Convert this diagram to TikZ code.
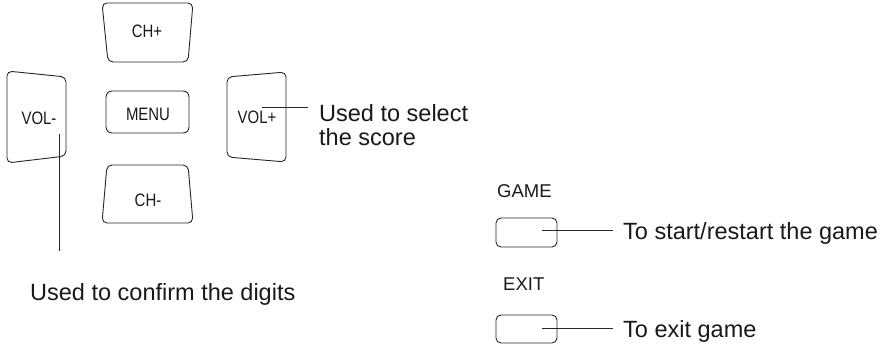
\documentclass[tikz,border=0pt]{standalone}
\usepackage{fontspec}
\setmainfont{Liberation Sans}
\newfontfamily\lblfont[FakeStretch=0.83]{Liberation Sans}
\begin{document}
\begin{tikzpicture}[x=1pt,y=-1pt,
  btn/.style={draw=black!85,line width=0.9pt,rounded corners=5pt},
  lead/.style={draw=black!85,line width=0.8pt},
  btnlabel/.style={inner sep=0pt,anchor=base,font=\lblfont\fontsize{18}{21}\selectfont,text=black!90},
  keyname/.style={inner sep=0pt,anchor=base west,font=\fontsize{18.5}{22}\selectfont,text=black!90},
  desc/.style={inner sep=0pt,anchor=base west,font=\fontsize{23.5}{27}\selectfont,text=black!90}]
\useasboundingbox (0,0) rectangle (893,347);
% buttons
\draw[btn] (102,3) -- (193,3) -- (188,62) -- (108,62) -- cycle;
\draw[btn] (7,71) -- (66,77) -- (66,156) -- (7,163) -- cycle;
\draw[btn] (227,77) -- (286,72) -- (286,162) -- (227,157) -- cycle;
\draw[btn,rounded corners=6pt] (106,91) rectangle (189,133);
\draw[btn] (107,165) -- (188,165) -- (193,223) -- (102,223) -- cycle;
\draw[btn] (496,218) rectangle (557,247);
\draw[btn] (496,315) rectangle (557,343);
% labels
\node[btnlabel] (chp) at (147,37.5) {CH+};
\node[btnlabel] (volm) at (39,124.5) {VOL-};
\node[btnlabel] (menu) at (148,120.5) {MENU};
\node[btnlabel] (volp) at (257,123.5) {VOL+};
\node[btnlabel] (chm) at (148,206.5) {CH-};
\node[keyname] (game) at (497,198) {GAME};
\node[keyname] (exit) at (503,290) {EXIT};
% descriptions
\node[desc] (sel1) at (319,122) {Used to select};
\node[desc] (sel2) at (319,146) {the score};
\node[desc] (conf) at (30,300) {Used to confirm the digits};
\node[desc] (start) at (623,240) {To start/restart the game};
\node[desc] (ex) at (623,337) {To exit game};
% leader end points
\coordinate (volmA) at (59,134);
\coordinate (volmB) at (59,251);
\coordinate (volpA) at (262,107);
\coordinate (volpB) at (308,107);
\coordinate (gameA) at (542,230);
\coordinate (gameB) at (613,230);
\coordinate (exitA) at (542,328);
\coordinate (exitB) at (613,328);
\draw[lead] (volmA) -- (volmB);
\draw[lead] (volpA) -- (volpB);
\draw[lead] (gameA) -- (gameB);
\draw[lead] (exitA) -- (exitB);
\end{tikzpicture}
\end{document}
